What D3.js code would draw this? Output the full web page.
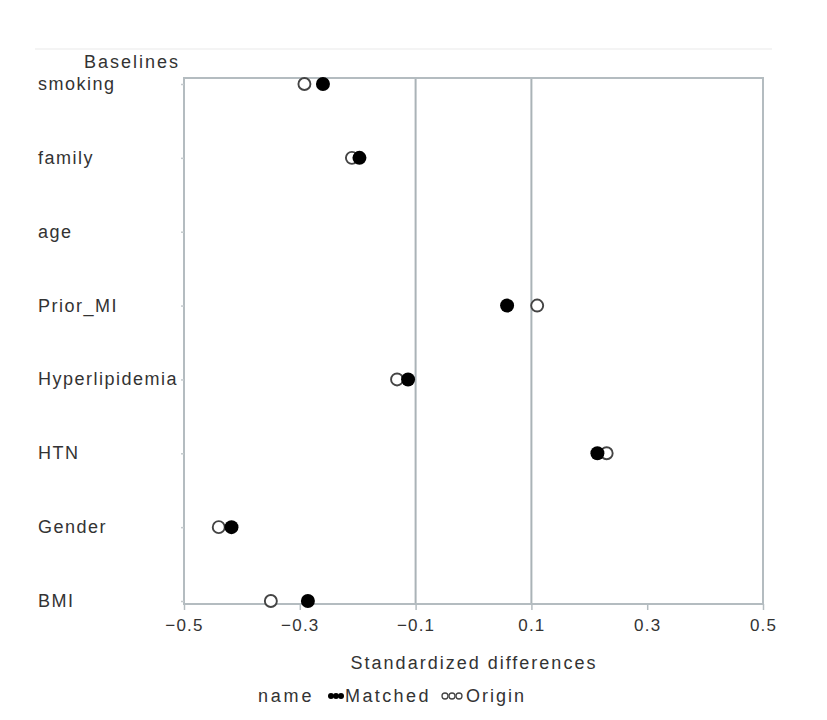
<!DOCTYPE html>
<html><head><meta charset="utf-8">
<script src="https://cdn.jsdelivr.net/npm/d3@7"></script>
<style>body{margin:0;background:#fff}text{font-family:"Liberation Sans",Arial,sans-serif;fill:#333}</style>
</head><body><svg id="c" width="827" height="720"></svg>
<script>
const categories = ["smoking","family","age","Prior_MI","Hyperlipidemia","HTN","Gender","BMI"];
const matched = [-0.26,-0.197,null,0.058,-0.113,0.214,-0.418,-0.286];
const origin  = [-0.292,-0.21,null,0.11,-0.132,0.23,-0.44,-0.35];
const xTicks = [-0.5,-0.3,-0.1,0.1,0.3,0.5];
const refLines = [-0.1,0.1];

const svg = d3.select("#c");
const L=184,R=763,T=78,B=604;
const x = d3.scaleLinear().domain([-0.5,0.5]).range([L,R]);
const y = d3.scalePoint().domain(categories).range([84,601]);

svg.append("line").attr("x1",35).attr("x2",772).attr("y1",49).attr("y2",49).attr("stroke","#f0f0f0").attr("stroke-width",1.5);

// reference lines
svg.selectAll(".ref").data(refLines).join("line")
  .attr("x1",d=>x(d)).attr("x2",d=>x(d)).attr("y1",T).attr("y2",B)
  .attr("stroke","#aab3b7").attr("stroke-width",2);

// frame
svg.append("rect").attr("x",L).attr("y",T).attr("width",R-L).attr("height",B-T)
  .attr("fill","none").attr("stroke","#b4bcc0").attr("stroke-width",2);

// x axis
const xa = svg.append("g").attr("transform",`translate(0,${B})`)
  .call(d3.axisBottom(x).tickValues(xTicks).tickSize(6).tickPadding(9).tickFormat(d=>d3.format(".1f")(d).replace("-","−")));
xa.select(".domain").remove();
xa.selectAll(".tick line").attr("stroke","#b4bcc0").attr("stroke-width",1.5);
xa.selectAll(".tick text").attr("font-size",17).attr("letter-spacing",1.2).attr("fill","#333").style("font-family",'"Liberation Sans",Arial,sans-serif');

// y ticks
const ya = svg.append("g").attr("transform",`translate(${L},0)`)
  .call(d3.axisLeft(y).tickSize(3).tickFormat(""));
ya.select(".domain").remove();
ya.selectAll(".tick line").attr("stroke","#c4cacd").attr("stroke-width",1.5);

// y labels
svg.selectAll(".ylab").data(categories).join("text")
  .attr("x",38).attr("y",d=>y(d)+6).attr("font-size",18).attr("letter-spacing",1.5).text(d=>d);
svg.append("text").attr("x",84).attr("y",68).attr("font-size",18).attr("letter-spacing",2).text("Baselines");

// points
const od = categories.map((c,i)=>({c,v:origin[i]})).filter(d=>d.v!=null);
const md = categories.map((c,i)=>({c,v:matched[i]})).filter(d=>d.v!=null);
svg.selectAll(".o").data(od).join("circle")
  .attr("cx",d=>x(d.v)).attr("cy",d=>y(d.c)).attr("r",6)
  .attr("fill","#fff").attr("stroke","#444").attr("stroke-width",1.9);
svg.selectAll(".m").data(md).join("circle")
  .attr("cx",d=>x(d.v)).attr("cy",d=>y(d.c)).attr("r",7)
  .attr("fill","#000");

// x title
svg.append("text").attr("x",474).attr("y",669).attr("text-anchor","middle").attr("font-size",18).attr("letter-spacing",2).text("Standardized differences");

// legend
svg.append("text").attr("x",258).attr("y",702).attr("font-size",18).attr("letter-spacing",2.8).text("name");
[331,336,341].forEach(cx=>svg.append("circle").attr("cx",cx).attr("cy",696).attr("r",3).attr("fill","#000"));
svg.append("text").attr("x",345).attr("y",702).attr("font-size",18).attr("letter-spacing",2.4).text("Matched");
[445,452,459].forEach(cx=>svg.append("circle").attr("cx",cx).attr("cy",696).attr("r",3).attr("fill","#fff").attr("stroke","#444").attr("stroke-width",1.3));
svg.append("text").attr("x",466).attr("y",702).attr("font-size",18).attr("letter-spacing",2).text("Origin");
</script></body></html>
